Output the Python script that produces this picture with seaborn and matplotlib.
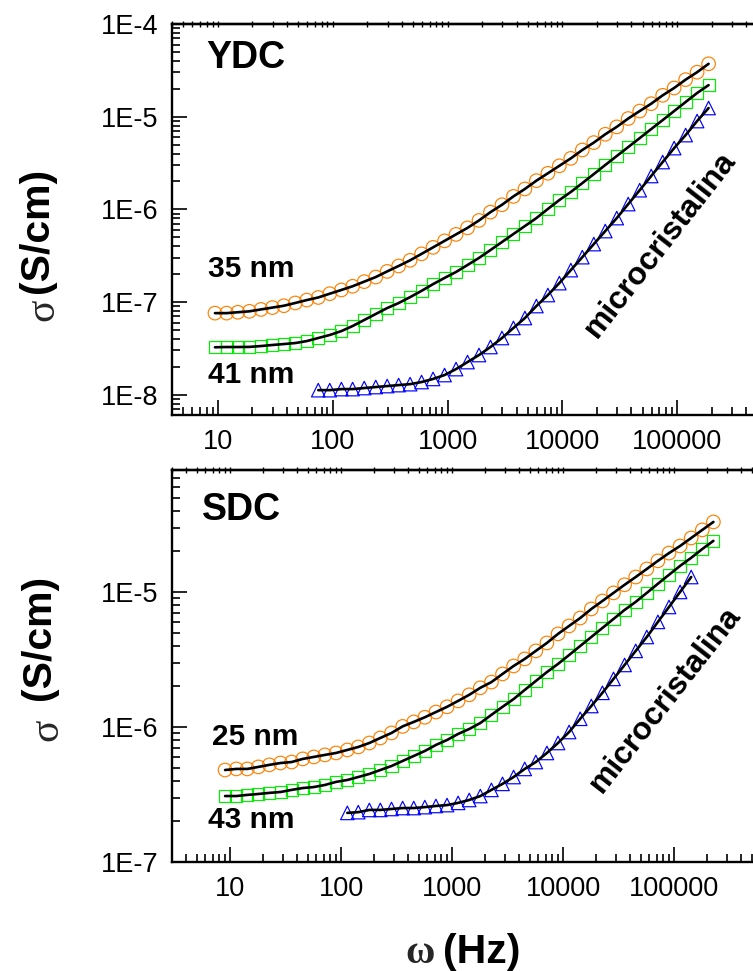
import numpy as np
import pandas as pd
import matplotlib
matplotlib.use("Agg")
import matplotlib.pyplot as plt
from matplotlib.ticker import FixedLocator, LogLocator, FuncFormatter, NullFormatter
import seaborn as sns

# ---------------- data ----------------
freq_ydc = [9.42, 11.9, 14.9, 18.8, 23.7, 29.8, 37.5, 47.2, 59.4, 74.8, 94.2, 119, 149, 188,
            237, 298, 375, 472, 594, 748, 942, 1186, 1493, 1879, 2366, 2979, 3750, 4721,
            5943, 7482, 9419, 11858, 14928, 18793, 23659, 29785, 37497, 47206, 59429,
            74817, 94189, 118577, 149279, 187932]
sigma_ydc_35nm = [7.59e-8, 7.59e-8, 7.76e-8, 7.94e-8, 8.32e-8, 8.71e-8, 9.12e-8, 9.77e-8,
                  1.05e-7, 1.12e-7, 1.23e-7, 1.35e-7, 1.48e-7, 1.66e-7, 1.86e-7, 2.14e-7,
                  2.45e-7, 2.82e-7, 3.31e-7, 3.89e-7, 4.57e-7, 5.37e-7, 6.31e-7, 7.59e-7,
                  9.33e-7, 1.12e-6, 1.38e-6, 1.66e-6, 2.04e-6, 2.45e-6, 2.95e-6, 3.55e-6,
                  4.37e-6, 5.25e-6, 6.46e-6, 7.76e-6, 9.55e-6, 1.15e-5, 1.38e-5, 1.70e-5,
                  2.04e-5, 2.51e-5, 3.02e-5, 3.72e-5]
sigma_ydc_41nm = [3.25e-8, 3.27e-8, 3.27e-8, 3.28e-8, 3.35e-8, 3.44e-8, 3.52e-8, 3.61e-8,
                  3.79e-8, 4.09e-8, 4.41e-8, 4.86e-8, 5.51e-8, 6.40e-8, 7.43e-8, 8.61e-8,
                  9.75e-8, 1.13e-7, 1.32e-7, 1.56e-7, 1.82e-7, 2.11e-7, 2.51e-7, 2.99e-7,
                  3.64e-7, 4.44e-7, 5.42e-7, 6.61e-7, 8.05e-7, 1.01e-6, 1.26e-6, 1.54e-6,
                  1.92e-6, 2.40e-6, 3.01e-6, 3.76e-6, 4.70e-6, 5.87e-6, 7.35e-6, 9.18e-6,
                  1.15e-5, 1.44e-5, 1.80e-5, 2.19e-5]
freq_ydc_micro = [74.8, 94.2, 119, 149, 188, 237, 298, 375, 472, 594, 748, 942, 1186, 1493,
                  1879, 2366, 2979, 3750, 4721, 5943, 7482, 9419, 11858, 14928, 18793, 23659,
                  29785, 37497, 47206, 59429, 74817, 94189, 118577, 149279, 187932]
sigma_ydc_micro = [1.12e-8, 1.12e-8, 1.15e-8, 1.15e-8, 1.18e-8, 1.21e-8, 1.24e-8, 1.27e-8,
                   1.30e-8, 1.37e-8, 1.48e-8, 1.63e-8, 1.89e-8, 2.25e-8, 2.68e-8, 3.27e-8,
                   4.09e-8, 5.25e-8, 6.72e-8, 9.05e-8, 1.19e-7, 1.60e-7, 2.21e-7, 3.05e-7,
                   4.22e-7, 5.83e-7, 8.05e-7, 1.14e-6, 1.61e-6, 2.29e-6, 3.24e-6, 4.58e-6,
                   6.33e-6, 8.97e-6, 1.24e-5]

freq_sdc = [9.02, 11.4, 14.3, 18.0, 22.6, 28.5, 35.9, 45.2, 56.9, 71.6, 90.2, 114, 143, 180,
            226, 285, 359, 452, 569, 716, 902, 1135, 1429, 1799, 2265, 2851, 3589, 4519,
            5689, 7161, 9016, 11350, 14289, 17989, 22646, 28510, 35892, 45186, 56885,
            71614, 90157, 113501, 142889, 179887, 226464]
sigma_sdc_25nm = [4.80e-7, 4.89e-7, 4.89e-7, 5.06e-7, 5.24e-7, 5.41e-7, 5.50e-7, 5.80e-7,
                  6.00e-7, 6.21e-7, 6.42e-7, 6.76e-7, 7.11e-7, 7.61e-7, 8.29e-7, 9.03e-7,
                  1.01e-6, 1.09e-6, 1.18e-6, 1.29e-6, 1.41e-6, 1.56e-6, 1.73e-6, 1.95e-6,
                  2.15e-6, 2.47e-6, 2.83e-6, 3.19e-6, 3.66e-6, 4.19e-6, 4.89e-6, 5.60e-6,
                  6.41e-6, 7.48e-6, 8.57e-6, 9.84e-6, 1.13e-5, 1.29e-5, 1.48e-5, 1.70e-5,
                  1.94e-5, 2.19e-5, 2.51e-5, 2.88e-5, 3.30e-5]
sigma_sdc_43nm = [3.08e-7, 3.08e-7, 3.14e-7, 3.19e-7, 3.25e-7, 3.30e-7, 3.42e-7, 3.53e-7,
                  3.59e-7, 3.72e-7, 3.92e-7, 4.05e-7, 4.26e-7, 4.49e-7, 4.80e-7, 5.14e-7,
                  5.60e-7, 6.10e-7, 6.64e-7, 7.36e-7, 8.01e-7, 8.88e-7, 9.66e-7, 1.07e-6,
                  1.23e-6, 1.41e-6, 1.61e-6, 1.88e-6, 2.19e-6, 2.55e-6, 2.93e-6, 3.41e-6,
                  3.98e-6, 4.64e-6, 5.41e-6, 6.31e-6, 7.36e-6, 8.44e-6, 9.84e-6, 1.15e-5,
                  1.34e-5, 1.56e-5, 1.79e-5, 2.08e-5, 2.39e-5]
freq_sdc_micro = [114, 143, 180, 226, 285, 359, 452, 569, 716, 902, 1135, 1429, 1799, 2265,
                  2851, 3589, 4519, 5689, 7161, 9016, 11350, 14289, 17989, 22646, 28510,
                  35892, 45186, 56885, 71614, 90157, 113501, 142889]
sigma_sdc_micro = [2.31e-7, 2.34e-7, 2.43e-7, 2.43e-7, 2.47e-7, 2.51e-7, 2.51e-7, 2.55e-7,
                   2.60e-7, 2.64e-7, 2.74e-7, 2.88e-7, 3.08e-7, 3.42e-7, 3.79e-7, 4.26e-7,
                   4.89e-7, 5.50e-7, 6.42e-7, 7.61e-7, 9.18e-7, 1.15e-6, 1.43e-6, 1.79e-6,
                   2.27e-6, 2.88e-6, 3.66e-6, 4.64e-6, 6.00e-6, 7.74e-6, 1.00e-5, 1.29e-5]

x_ticks = [10, 100, 1000, 10000, 100000]
y_ticks_ydc = [1e-8, 1e-7, 1e-6, 1e-5, 1e-4]
y_ticks_sdc = [1e-7, 1e-6, 1e-5]

# ---------------- style ----------------
sns.set_theme(style="white")
plt.rcParams['font.family'] = ['Liberation Sans', 'DejaVu Sans']
plt.rcParams['axes.unicode_minus'] = False

W, H = 753, 971
fig = plt.figure(figsize=(W / 100, H / 100), dpi=100)


def rect(l, t, r, b):
    return [l / W, 1 - b / H, (r - l) / W, (b - t) / H]


def fx(x):
    return x / W


def fy(y):
    return 1 - y / H


ORANGE, GREEN, BLUE = '#FF8000', '#00F000', '#0000FF'


def draw(ax, freq, sig, marker, size, color):
    df = pd.DataFrame({'f': freq, 's': sig})
    sns.scatterplot(data=df, x='f', y='s', marker=marker, s=size, color=color,
                    facecolor='none', edgecolor=color, linewidth=0.85, ax=ax, zorder=2)
    sns.lineplot(data=df, x='f', y='s', color='black', linewidth=1.9, ax=ax,
                 zorder=3, errorbar=None, sort=False)


def style_axes(ax, xlim, ylim, yticks):
    ax.set_xscale('log')
    ax.set_yscale('log')
    ax.set_xlim(*xlim)
    ax.set_ylim(*ylim)
    ax.set_xlabel('')
    ax.set_ylabel('')
    ax.xaxis.set_major_locator(FixedLocator(x_ticks))
    ax.xaxis.set_major_formatter(FuncFormatter(lambda v, p: f"{int(round(v))}"))
    ax.xaxis.set_minor_locator(LogLocator(base=10, subs=np.arange(2, 10), numticks=100))
    ax.xaxis.set_minor_formatter(NullFormatter())
    ax.yaxis.set_major_locator(FixedLocator(yticks))
    ax.yaxis.set_major_formatter(FuncFormatter(lambda v, p: f"1E{int(round(np.log10(v)))}"))
    ax.yaxis.set_minor_locator(LogLocator(base=10, subs=np.arange(2, 10), numticks=100))
    ax.yaxis.set_minor_formatter(NullFormatter())
    ax.tick_params(which='both', direction='in', left=True, bottom=True, top=False,
                   right=False, width=1.2, colors='black')
    ax.tick_params(which='major', length=11, labelsize=19.5, pad=10)
    ax.tick_params(which='minor', length=6)
    ax.spines['right'].set_visible(False)
    for s in ('left', 'bottom', 'top'):
        ax.spines[s].set_linewidth(1.7)
        ax.spines[s].set_color('black')
    sec = ax.secondary_xaxis('top')
    sec.xaxis.set_major_locator(FixedLocator(x_ticks))
    sec.xaxis.set_minor_locator(LogLocator(base=10, subs=np.arange(2, 10), numticks=100))
    sec.xaxis.set_major_formatter(NullFormatter())
    sec.xaxis.set_minor_formatter(NullFormatter())
    sec.tick_params(which='both', direction='inout', length=4, width=1.0, colors='black')
    sec.spines['top'].set_linewidth(1.7)


ax1 = fig.add_axes(rect(172, 24, 753, 415))
ax2 = fig.add_axes(rect(172, 470, 753, 862))
for ax in (ax1, ax2):
    ax.set_xscale('log')
    ax.set_yscale('log')

draw(ax1, freq_ydc, sigma_ydc_35nm, 'o', 95, ORANGE)
draw(ax1, freq_ydc, sigma_ydc_41nm, 's', 75, GREEN)
draw(ax1, freq_ydc_micro, sigma_ydc_micro, '^', 95, BLUE)

draw(ax2, freq_sdc, sigma_sdc_25nm, 'o', 95, ORANGE)
draw(ax2, freq_sdc, sigma_sdc_43nm, 's', 75, GREEN)
draw(ax2, freq_sdc_micro, sigma_sdc_micro, '^', 95, BLUE)

style_axes(ax1, (3.98, 4.58e5), (6.04e-9, 1e-4), y_ticks_ydc)
style_axes(ax2, (3.0, 5.15e5), (1e-7, 8.0e-5), y_ticks_sdc)

# ---------------- annotations ----------------
bold = dict(fontweight='bold', color='black')
fig.text(fx(206), fy(68), 'YDC', fontsize=27, ha='left', va='baseline', **bold)
fig.text(fx(202), fy(520), 'SDC', fontsize=27, ha='left', va='baseline', **bold)
fig.text(fx(208), fy(277), '35 nm', fontsize=21.5, ha='left', va='baseline', **bold)
fig.text(fx(208), fy(383), '41 nm', fontsize=21.5, ha='left', va='baseline', **bold)
fig.text(fx(212), fy(745), '25 nm', fontsize=21.5, ha='left', va='baseline', **bold)
fig.text(fx(208), fy(828), '43 nm', fontsize=21.5, ha='left', va='baseline', **bold)
fig.text(fx(660), fy(245), 'microcristalina', fontsize=23, rotation=52,
         ha='center', va='center', rotation_mode='anchor', **bold)
fig.text(fx(665), fy(700), 'microcristalina', fontsize=23, rotation=52,
         ha='center', va='center', rotation_mode='anchor', **bold)

# y-axis labels: sigma (S/cm)
for (bx, cy, sbx, scy) in [(48, 230, 53, 310), (50, 637, 57, 730)]:
    fig.text(fx(bx), fy(cy), '(S/cm)', fontsize=29.5, rotation=90, ha='center',
             va='baseline', rotation_mode='anchor', **bold)
    fig.text(fx(sbx), fy(scy), 'σ', fontsize=30, rotation=90, ha='center',
             va='baseline', rotation_mode='anchor', family=['Liberation Serif', 'DejaVu Serif'])

# x-axis label: omega (Hz)
fig.text(fx(435), fy(963), 'ω', fontsize=29, ha='right', va='baseline',
         family=['Liberation Serif', 'DejaVu Serif'], fontweight='bold')
fig.text(fx(443), fy(963), '(Hz)', fontsize=29.5, ha='left', va='baseline', **bold)

fig.savefig('out.png', dpi=100, facecolor='white')
